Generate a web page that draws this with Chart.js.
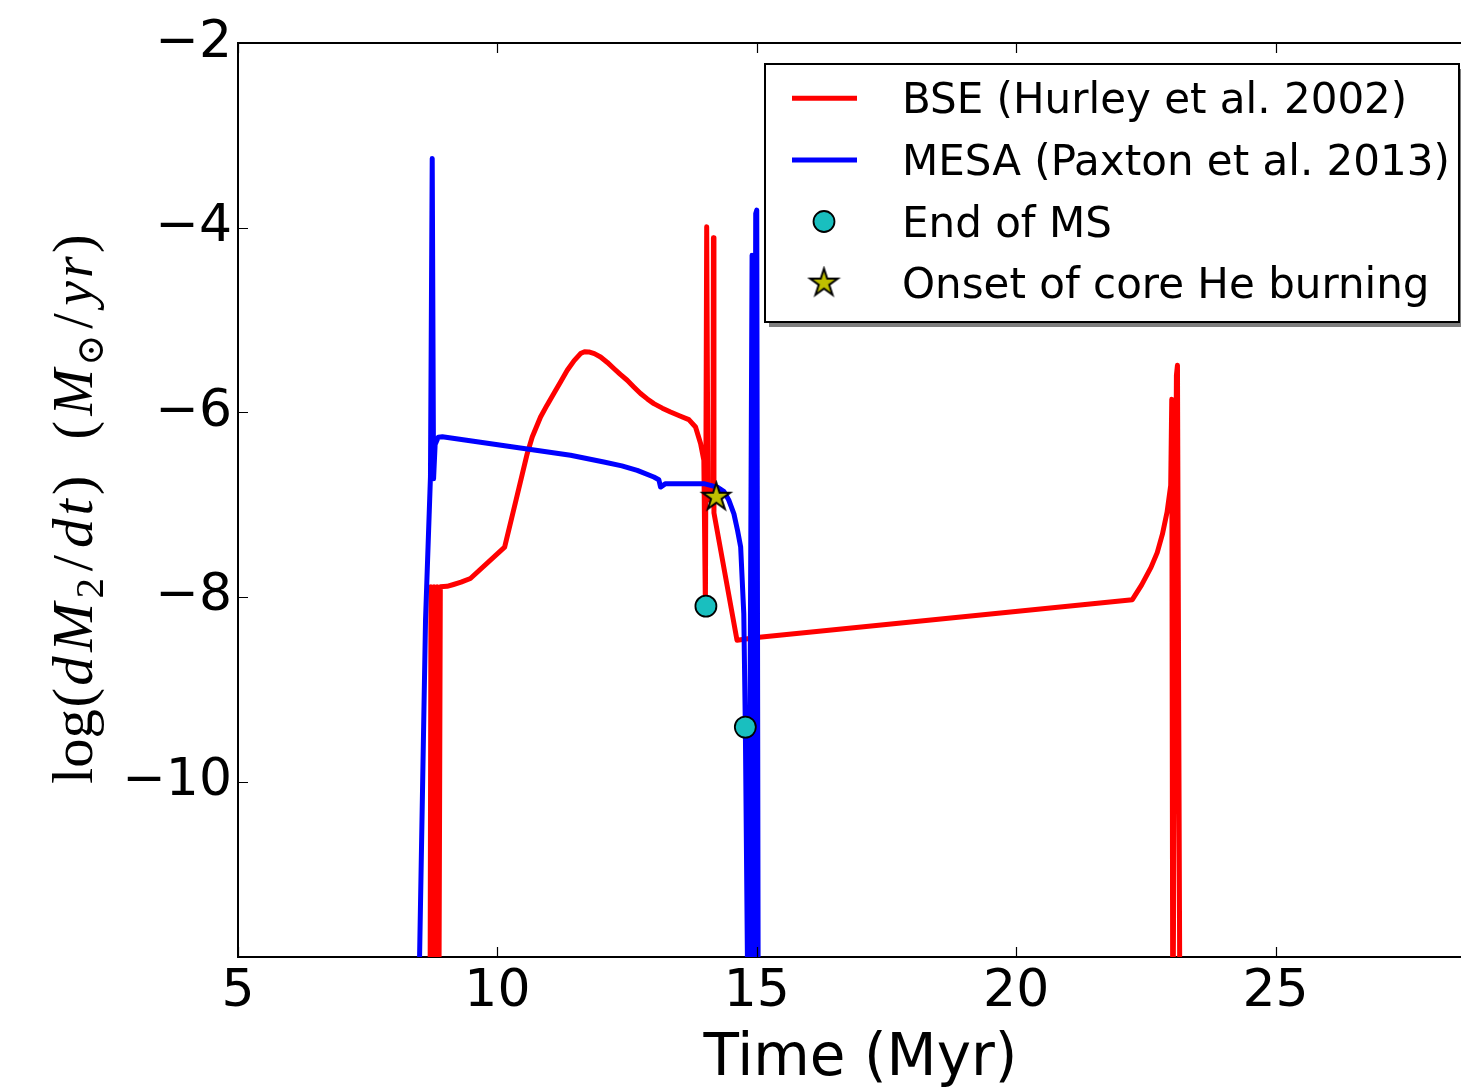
<!DOCTYPE html>
<html><head><meta charset="utf-8">
<script src="https://cdn.jsdelivr.net/npm/chart.js@4.4.1/dist/chart.umd.min.js"></script>
<style>html,body{margin:0;padding:0;overflow:hidden;background:#fff;width:1461px;height:1091px}#c{display:block}</style>
</head><body>
<canvas id="c" width="1498" height="1091"></canvas>
<script>
// ---- data ----
const xTicks = [5, 10, 15, 20, 25];
const yTicks = [-10, -8, -6, -4, -2];
const xRange = [5, 29];
const yRange = [-11.9, -2];
const seriesLabels = ['BSE (Hurley et al. 2002)', 'MESA (Paxton et al. 2013)', 'End of MS', 'Onset of core He burning'];

const bseTime = [8.70, 8.72, 8.75, 8.78, 8.81, 8.84, 8.87, 8.90, 9.03, 9.155, 9.30, 9.48, 10.14, 10.36, 10.575, 10.672, 10.832, 10.96, 11.088, 11.22, 11.347, 11.48, 11.603, 11.68, 11.763, 11.87, 11.989, 12.12, 12.245, 12.37, 12.503, 12.63, 12.76, 12.89, 13.016, 13.18, 13.338, 13.52, 13.691, 13.82, 13.917, 13.98, 14.01, 14.035, 14.06, 14.155, 14.165, 14.175, 14.62, 15.0, 22.24, 22.42, 22.6, 22.72, 22.82, 22.91, 22.98, 23.00, 23.02, 23.09, 23.11, 23.16];
const bseRate = [-13, -7.89, -13, -7.89, -13, -7.89, -13, -7.89, -7.885, -7.865, -7.84, -7.80, -7.46, -6.95, -6.448, -6.268, -6.051, -5.92, -5.797, -5.67, -5.545, -5.44, -5.364, -5.345, -5.346, -5.365, -5.401, -5.46, -5.526, -5.59, -5.653, -5.725, -5.797, -5.855, -5.906, -5.955, -5.997, -6.04, -6.079, -6.159, -6.339, -6.52, -8.10, -3.99, -6.95, -6.95, -4.11, -7.09, -8.47, -8.44, -8.03, -7.87, -7.68, -7.52, -7.32, -7.08, -6.79, -5.86, -13, -5.6, -5.49, -13];

const mesaTime = [8.47, 8.50, 8.615, 8.71, 8.744, 8.77, 8.80, 8.86, 8.94, 11.41, 12.052, 12.40, 12.696, 13.016, 13.113, 13.145, 13.242, 13.98, 14.238, 14.37, 14.46, 14.56, 14.63, 14.69, 14.72, 14.75, 14.78, 14.82, 14.84, 14.91, 14.94, 14.98, 15.00, 15.03];
const mesaRate = [-13, -11.9, -8.25, -6.70, -3.25, -6.72, -6.35, -6.27, -6.265, -6.466, -6.539, -6.58, -6.629, -6.701, -6.730, -6.810, -6.773, -6.773, -6.810, -6.86, -6.95, -7.10, -7.28, -7.46, -7.82, -8.18, -9.41, -11.9, -13, -4.30, -13, -3.85, -3.81, -13];

const msEndTime = [14.02, 14.78];
const msEndRate = [-8.10, -9.41];
const heOnsetTime = [14.22];
const heOnsetRate = [-6.92];

const pts = (xs, ys) => xs.map((x, i) => ({x, y: ys[i]}));

// ---- star marker image ----
function makeStar(R, fill) {
  const r = R * 0.381966;
  const s = Math.ceil(2 * R + 6);
  const c = document.createElement('canvas');
  c.width = s; c.height = s;
  const g = c.getContext('2d');
  g.beginPath();
  for (let i = 0; i < 10; i++) {
    const rad = i % 2 ? r : R;
    const a = -Math.PI / 2 + i * Math.PI / 5;
    const px = s / 2 + rad * Math.cos(a), py = s / 2 + rad * Math.sin(a);
    if (i) g.lineTo(px, py); else g.moveTo(px, py);
  }
  g.closePath();
  g.fillStyle = fill; g.fill();
  g.lineWidth = 2; g.strokeStyle = '#000'; g.lineJoin = 'miter'; g.stroke();
  return c;
}
const starImg = makeStar(14.5, '#BFBF00');

const RED = '#FF0000', BLUE = '#0000FF', CYAN = '#19BFBF';
const fmt = v => (v < 0 ? '\u2212' + Math.abs(v) : String(v));

// ---- frame: top spine + inward ticks ----
const framePlugin = {
  id: 'frame',
  afterDatasetsDraw(chart) {
    const {ctx, chartArea: ca, scales} = chart;
    ctx.save();
    ctx.strokeStyle = '#000';
    ctx.lineWidth = 2;
    ctx.beginPath();
    ctx.moveTo(ca.left - 1, ca.top); ctx.lineTo(ca.right, ca.top);
    ctx.stroke();
    ctx.lineWidth = 1.2;
    ctx.beginPath();
    xTicks.forEach(v => {
      const px = Math.round(scales.x.getPixelForValue(v)) + 0.5;
      ctx.moveTo(px, ca.bottom); ctx.lineTo(px, ca.bottom - 10);
      ctx.moveTo(px, ca.top); ctx.lineTo(px, ca.top + 10);
    });
    yTicks.forEach(v => {
      const py = Math.round(scales.y.getPixelForValue(v)) + 0.5;
      ctx.moveTo(ca.left, py); ctx.lineTo(ca.left + 10, py);
      ctx.moveTo(ca.right, py); ctx.lineTo(ca.right - 10, py);
    });
    ctx.stroke();
    ctx.restore();
  }
};

// ---- y axis title (math style, glyphs set in TeX-like advance boxes) ----
const yTitlePlugin = {
  id: 'ytitle',
  afterDraw(chart) {
    const {ctx, chartArea: ca} = chart;
    const S = 57;
    const fonts = {
      n: `${S}px "Liberation Serif"`,
      i: `italic ${S}px "Liberation Serif"`,
      sub: `${Math.round(S * 0.7)}px "Liberation Serif"`,
      sym: `${Math.round(S * 0.66)}px "DejaVu Serif"`
    };
    const g1 = [['log', 'n', 1.278], ['(', 'n', 0.389], ['d', 'i', 0.52], ['M', 'i', 0.97], ['2', 'sub', 0.36], ['/', 'n', 0.5], ['d', 'i', 0.52], ['t', 'i', 0.361], [')', 'n', 0.389]];
    const g2 = [['(', 'n', 0.389], ['M', 'i', 0.97], ['\u2299', 'sym', 0.545], ['/', 'n', 0.5], ['y', 'i', 0.49], ['r', 'i', 0.451], [')', 'n', 0.389]];
    const cy = (ca.top + ca.bottom) / 2;
    const baseX = ca.left - 146;
    const drawGroup = (grp, startY, endY) => {
      const w = grp.reduce((a, q) => a + q[2] * S, 0);
      const s = (startY - endY) / w;
      ctx.save();
      ctx.translate(baseX, startY);
      ctx.rotate(-Math.PI / 2);
      ctx.scale(s, 1);
      let u = 0;
      grp.forEach(([t, f, adv]) => {
        ctx.font = fonts[f];
        const mw = ctx.measureText(t).width;
        const dv = (f === 'sub' || f === 'sym') ? S * 0.2 : 0;
        ctx.fillText(t, u + (adv * S - mw) / 2, dv);
        u += adv * S;
      });
      ctx.restore();
    };
    ctx.save();
    ctx.fillStyle = '#000';
    ctx.textBaseline = 'alphabetic';
    ctx.textAlign = 'left';
    drawGroup(g1, cy + 284, cy - 26);
    drawGroup(g2, cy - 59, cy - 267);
    ctx.restore();
  }
};

// ---- legend ----
const legendPlugin = {
  id: 'mlegend',
  afterDraw(chart) {
    const {ctx, chartArea: ca} = chart;
    const ds = chart.data.datasets;
    const right = ca.right - 24, left = right - 694, top = ca.top + 21, bottom = top + 258;
    ctx.save();
    ctx.fillStyle = 'rgba(0,0,0,0.5)';
    ctx.fillRect(left + 4, top + 5, right - left, bottom - top);
    ctx.fillStyle = '#fff';
    ctx.fillRect(left, top, right - left, bottom - top);
    ctx.strokeStyle = '#000';
    ctx.lineWidth = 2;
    ctx.strokeRect(left, top, right - left, bottom - top);
    const rowY = i => top + 34.3 + i * 61.6;
    const mx = left + 59;
    ctx.font = '42px "DejaVu Sans"';
    ctx.textBaseline = 'alphabetic';
    ctx.textAlign = 'left';
    seriesLabels.forEach((lab, i) => {
      const d = ds.find(q => q.label === lab);
      const y = rowY(i);
      if (d.showLine) {
        ctx.strokeStyle = d.borderColor; ctx.lineWidth = d.borderWidth;
        ctx.beginPath(); ctx.moveTo(left + 27, y); ctx.lineTo(left + 92, y); ctx.stroke();
      } else if (d.pointStyle === 'circle') {
        ctx.beginPath(); ctx.arc(mx, y, d.pointRadius, 0, Math.PI * 2);
        ctx.fillStyle = d.backgroundColor; ctx.fill();
        ctx.strokeStyle = '#000'; ctx.lineWidth = d.borderWidth; ctx.stroke();
      } else {
        ctx.drawImage(starImg, mx - starImg.width / 2, y - starImg.height / 2);
      }
      ctx.fillStyle = '#000';
      ctx.fillText(lab, left + 137, y + 15);
    });
    ctx.restore();
  }
};

new Chart(document.getElementById('c'), {
  type: 'scatter',
  data: {
    datasets: [
      {label: seriesLabels[3], data: pts(heOnsetTime, heOnsetRate), pointStyle: starImg, pointRadius: 14, order: 0},
      {label: seriesLabels[2], data: pts(msEndTime, msEndRate), pointStyle: 'circle', pointRadius: 10.5, backgroundColor: CYAN, borderColor: '#000', borderWidth: 1.8, order: 1},
      {label: seriesLabels[1], data: pts(mesaTime, mesaRate), showLine: true, borderColor: BLUE, backgroundColor: BLUE, borderWidth: 5, pointRadius: 0, borderJoinStyle: 'round', borderCapStyle: 'round', tension: 0, order: 2},
      {label: seriesLabels[0], data: pts(bseTime, bseRate), showLine: true, borderColor: RED, backgroundColor: RED, borderWidth: 5, pointRadius: 0, borderJoinStyle: 'round', borderCapStyle: 'round', tension: 0, order: 3}
    ]
  },
  options: {
    responsive: false,
    animation: false,
    devicePixelRatio: 1,
    events: [],
    layout: {padding: {top: 43, right: 7, bottom: 0, left: 0}},
    plugins: {legend: {display: false}, tooltip: {enabled: false}},
    scales: {
      x: {
        type: 'linear', min: xRange[0], max: xRange[1],
        afterBuildTicks: s => { s.ticks = xTicks.map(v => ({value: v})); },
        afterFit: s => { s.height = 134; },
        grid: {display: false, drawTicks: false},
        border: {display: true, color: '#000', width: 2},
        ticks: {color: '#000', padding: 4, font: {family: 'DejaVu Sans', size: 52}, callback: fmt, maxRotation: 0, autoSkip: false},
        title: {display: true, text: 'Time (Myr)', color: '#000', font: {family: 'DejaVu Sans', size: 58}, padding: {top: 0, bottom: -4}}
      },
      y: {
        type: 'linear', min: yRange[0], max: yRange[1],
        afterBuildTicks: s => { s.ticks = yTicks.map(v => ({value: v})); },
        afterFit: s => { s.width = 238; },
        grid: {display: false, drawTicks: false},
        border: {display: true, color: '#000', width: 2},
        ticks: {color: '#000', padding: 6, font: {family: 'DejaVu Sans', size: 52}, callback: fmt, autoSkip: false},
        title: {display: false}
      }
    }
  },
  plugins: [framePlugin, yTitlePlugin, legendPlugin]
});
</script>
</body></html>
